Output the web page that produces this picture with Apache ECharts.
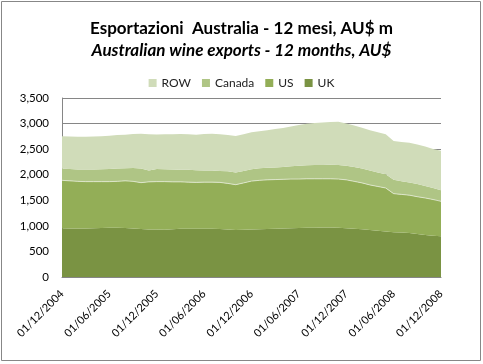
<!DOCTYPE html>
<html>
<head>
<meta charset="utf-8">
<script src="https://cdn.jsdelivr.net/npm/echarts@6/dist/echarts.min.js"></script>
<style>
html,body{margin:0;padding:0;background:#fff;}
#c{width:483px;height:364px;}
</style>
</head>
<body>
<div id="c"></div>
<script>
const months = ['01','02','03','04','05','06','07','08','09','10','11','12'];
// monthly categories from 01/12/2004 to 01/12/2008
const categories = ['01/12/2004'];
for (let y = 2005; y <= 2008; y++) {
  for (const m of months) categories.push('01/' + m + '/' + y);
}

const uk = [955,950,948,950,955,960,962,965,960,950,940,930,928,925,935,945,945,945,945,945,940,930,920,925,930,935,940,945,950,955,960,962,965,968,968,965,955,945,935,920,905,890,875,868,860,840,820,805,795];
const us = [935,930,922,915,910,905,903,905,920,920,905,930,937,940,925,915,910,905,910,910,910,900,885,915,945,955,960,960,960,960,955,958,955,952,952,950,945,925,905,880,865,850,755,747,740,730,725,710,685];
const canada = [225,230,230,235,235,240,245,250,245,260,275,220,245,240,240,235,240,235,225,225,225,240,240,235,230,235,235,235,240,250,260,265,270,270,275,275,275,280,280,280,275,270,270,255,250,250,235,225,215];
const row = [635,635,640,640,645,645,650,655,655,665,680,710,675,685,690,700,695,697,715,720,715,705,710,715,725,725,735,755,765,780,795,810,820,830,835,845,825,810,800,790,785,780,760,770,775,770,770,765,775];

const colors = {UK:'#7a9343', US:'#93ae57', Canada:'#afc585', ROW:'#d0dcb9'};
const FONT = 'Lato, "Liberation Sans", sans-serif';

const chart = echarts.init(document.getElementById('c'), null, {renderer:'canvas'});
function mk(name, data, line) {
  return {
    name, type:'line', stack:'total', data, symbol:'none', smooth:false,
    lineStyle: line ? {width:0.8, color:'#e4ebd6'} : {width:0},
    areaStyle:{color:colors[name], opacity:1},
    itemStyle:{color:colors[name]},
    emphasis:{disabled:true}, animation:false
  };
}
chart.setOption({
  animation:false,
  textStyle:{fontFamily:FONT},
  graphic:[{type:'rect', shape:{x:1.5,y:1.5,width:479,height:359}, style:{fill:'none', stroke:'#878787', lineWidth:1}, z:-1}],
  title:[
    {text:'Esportazioni  Australia - 12 mesi, AU$ m', left:'center', top:15,
     textStyle:{fontFamily:FONT, fontSize:17, fontWeight:'bold', color:'#000'}},
    {text:'Australian wine exports - 12 months, AU$', left:'center', top:37,
     textStyle:{fontFamily:FONT, fontSize:17, fontWeight:'bold', fontStyle:'italic', color:'#000'}}
  ],
  legend:{
    data:['ROW','Canada','US','UK'], top:72, left:'center', icon:'rect',
    itemWidth:8, itemHeight:8, itemGap:11,
    textStyle:{fontFamily:FONT, fontSize:12, color:'#222'}
  },
  grid:{left:62, right:42, top:98, bottom:87, containLabel:false},
  xAxis:{
    type:'category', data:categories, boundaryGap:false,
    axisLine:{show:true, lineStyle:{color:'#868686'}},
    axisTick:{show:false},
    axisLabel:{interval:5, rotate:45, fontFamily:FONT, fontSize:11, color:'#000', margin:15},
    splitLine:{show:false}
  },
  yAxis:{
    type:'value', min:0, max:3500, interval:500,
    axisLine:{show:true, lineStyle:{color:'#868686'}},
    axisTick:{show:false},
    axisLabel:{fontFamily:FONT, fontSize:11.5, color:'#000', margin:13,
      formatter:v=>v.toLocaleString('en-US')},
    splitLine:{show:true, lineStyle:{color:'#868686', width:1}}
  },
  series:[mk('UK',uk,false), mk('US',us,true), mk('Canada',canada,false), mk('ROW',row,false)]
});
</script>
</body>
</html>
